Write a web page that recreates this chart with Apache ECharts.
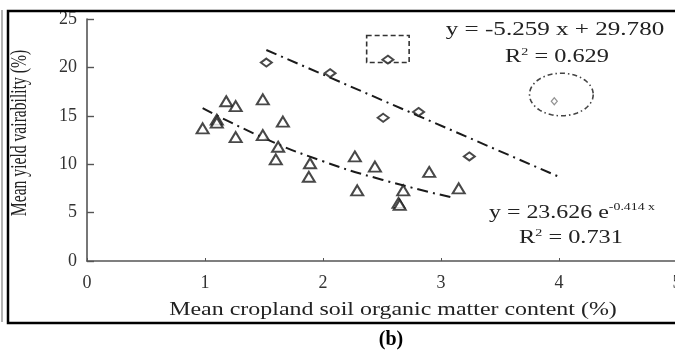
<!DOCTYPE html>
<html lang="en">
<head>
    <meta charset="UTF-8">
    <title>Yield variability vs soil organic matter</title>
    <script src="https://cdn.jsdelivr.net/npm/echarts@6/dist/echarts.min.js"></script>
    <style>
        html, body { margin: 0; padding: 0; background: #fff; }
        #main { width: 675px; height: 351px; }
    </style>
</head>
<body>
    <div id="main"></div>

    <script>
        // triangles: cropland points (exponential fit)
        var triX = [0.98, 1.10, 1.10, 1.18, 1.26, 1.26, 1.49, 1.49, 1.60, 1.62, 1.66, 1.88, 1.89, 2.27, 2.29, 2.44, 2.64, 2.65, 2.68, 2.90, 3.15];
        var triY = [13.7, 14.6, 14.3, 16.5, 16.0, 12.8, 16.7, 13.0, 10.5, 11.8, 14.4, 8.7, 10.1, 10.8, 7.3, 9.75, 6.0, 5.8, 7.3, 9.2, 7.5];

        // diamonds: linear fit group
        var diaX = [1.52, 2.06, 2.51, 2.81, 3.24, 2.55];
        var diaY = [20.5, 19.4, 14.8, 15.4, 10.8, 20.8];

        // the small outlier inside the ellipse
        var outX = [3.96];
        var outY = [16.5];

        // fitted lines
        var linX = [1.52, 4.0];
        var linY = [21.8, 8.7];
        var expX = [0.98, 1.5, 2.0, 2.5, 3.08];
        var expY = [15.8, 12.7, 10.3, 8.4, 6.6];

        // annotation shapes in data units
        var boxArea = [2.37, 20.5, 2.73, 23.3];      // x0, y0, x1, y1
        var ellipseArea = [4.02, 17.2, 0.27, 2.2];   // cx, cy, rx, ry

        var xTicks = [0, 1, 2, 3, 4, 5];
        var yTicks = [0, 5, 10, 15, 20, 25];

        function pairs(xs, ys) {
            return xs.map(function (x, i) { return [x, ys[i]]; });
        }

        var serif = 'Liberation Serif';
        var ink = '#1a1a1a';

        var chart = echarts.init(document.getElementById('main'));

        var option = {
            animation: false,
            grid: { left: 87, top: 19, width: 590, bottom: 90, outerBoundsMode: 'none' },
            xAxis: {
                type: 'value',
                min: xTicks[0],
                max: xTicks[xTicks.length - 1],
                interval: 1,
                splitLine: { show: false },
                axisLine: { onZero: false, lineStyle: { color: '#555', width: 1.6 } },
                axisTick: { inside: true, length: 3, lineStyle: { color: '#555' } },
                axisLabel: { margin: 13, fontFamily: serif, fontSize: 18, color: '#333' }
            },
            yAxis: {
                type: 'value',
                min: yTicks[0],
                max: yTicks[yTicks.length - 1],
                interval: 5,
                splitLine: { show: false },
                axisLine: { show: true, lineStyle: { color: '#555', width: 1.6 } },
                axisTick: { show: true, inside: true, length: 7, lineStyle: { color: '#555', width: 1.4 } },
                axisLabel: { margin: 10, fontFamily: serif, fontSize: 18, color: '#333' }
            },
            series: [
                {
                    type: 'line',
                    data: pairs(linX, linY),
                    symbol: 'none',
                    lineStyle: { color: ink, width: 2, type: [11, 5, 2, 5] },
                    z: 2
                },
                {
                    type: 'line',
                    data: pairs(expX, expY),
                    smooth: true,
                    symbol: 'none',
                    lineStyle: { color: ink, width: 2, type: [11, 5, 2, 5] },
                    z: 2
                },
                {
                    type: 'scatter',
                    data: pairs(triX, triY),
                    symbol: 'triangle',
                    symbolSize: [12, 10],
                    itemStyle: { color: '#fff', borderColor: ink, borderWidth: 2 },
                    z: 3
                },
                {
                    type: 'scatter',
                    data: pairs(diaX, diaY),
                    symbol: 'diamond',
                    symbolSize: [11, 8],
                    itemStyle: { color: '#fff', borderColor: ink, borderWidth: 2 },
                    z: 3
                },
                {
                    type: 'scatter',
                    data: pairs(outX, outY),
                    symbol: 'diamond',
                    symbolSize: [6, 7],
                    itemStyle: { color: '#fff', borderColor: '#777', borderWidth: 1.2 },
                    z: 3
                },
                {
                    // dashed box
                    type: 'custom',
                    data: [boxArea],
                    renderItem: function (params, api) {
                        var p0 = api.coord([api.value(0), api.value(3)]);
                        var p1 = api.coord([api.value(2), api.value(1)]);
                        return {
                            type: 'rect',
                            shape: { x: p0[0], y: p0[1], width: p1[0] - p0[0], height: p1[1] - p0[1] },
                            style: { fill: 'none', stroke: '#333', lineWidth: 1.6, lineDash: [5, 3] }
                        };
                    },
                    z: 1
                },
                {
                    // dash-dot ellipse round the outlier
                    type: 'custom',
                    data: [ellipseArea],
                    renderItem: function (params, api) {
                        var c = api.coord([api.value(0), api.value(1)]);
                        var s = api.size([api.value(2), api.value(3)]);
                        var pts = [];
                        for (var i = 0; i < 60; i++) {
                            var a = i / 60 * Math.PI * 2;
                            pts.push([c[0] + s[0] * Math.cos(a), c[1] + s[1] * Math.sin(a)]);
                        }
                        return {
                            type: 'polygon',
                            shape: { points: pts },
                            style: { fill: 'none', stroke: '#444', lineWidth: 1.6, lineDash: [5, 3, 1.5, 3] }
                        };
                    },
                    z: 1
                }
            ],
            graphic: [
                // outer frame of the figure
                { type: 'rect', shape: { x: 8, y: 11, width: 700, height: 312 },
                  style: { fill: 'none', stroke: '#000', lineWidth: 2.5 }, z: 10 },
                { type: 'line', shape: { x1: 2, y1: 10, x2: 2, y2: 322 },
                  style: { stroke: '#999', lineWidth: 1.5 }, z: 10 },
                // axis titles, stretched like the source
                { type: 'text', x: 393, y: 310, scaleX: 1.33,
                  style: { text: 'Mean cropland soil organic matter content (%)', font: '18px "Liberation Serif"',
                           fill: '#222', align: 'center', verticalAlign: 'middle' }, z: 10 },
                { type: 'text', x: 20, y: 133, rotation: Math.PI / 2, scaleX: 0.68,
                  style: { text: 'Mean yield vairability (%)', font: '23px "Liberation Serif"',
                           fill: '#222', align: 'center', verticalAlign: 'middle' }, z: 10 },
                // fit equations
                { type: 'text', x: 555, y: 30, scaleX: 1.32,
                  style: { text: 'y = -5.259 x + 29.780', font: '19px "Liberation Serif"',
                           fill: '#222', align: 'center', verticalAlign: 'middle' }, z: 10 },
                { type: 'text', x: 557, y: 57, scaleX: 1.28,
                  style: { text: 'R{s|2} = 0.629', font: '19px "Liberation Serif"', fill: '#222',
                           align: 'center', verticalAlign: 'middle',
                           rich: { s: { fontSize: 11, fontFamily: serif, padding: [0, 0, 9, 0] } } }, z: 10 },
                { type: 'text', x: 572, y: 213, scaleX: 1.26,
                  style: { text: 'y = 23.626 e{s|-0.414 x}', font: '19px "Liberation Serif"', fill: '#222',
                           align: 'center', verticalAlign: 'middle',
                           rich: { s: { fontSize: 11, fontFamily: serif, padding: [0, 0, 12, 0] } } }, z: 10 },
                { type: 'text', x: 571, y: 238, scaleX: 1.28,
                  style: { text: 'R{s|2} = 0.731', font: '19px "Liberation Serif"', fill: '#222',
                           align: 'center', verticalAlign: 'middle',
                           rich: { s: { fontSize: 11, fontFamily: serif, padding: [0, 0, 9, 0] } } }, z: 10 },
                // panel label
                { type: 'text', x: 391, y: 340,
                  style: { text: '(b)', font: 'bold 20px "Liberation Serif"', fill: '#000',
                           align: 'center', verticalAlign: 'middle' }, z: 10 }
            ]
        };

        chart.setOption(option);
    </script>
</body>
</html>
